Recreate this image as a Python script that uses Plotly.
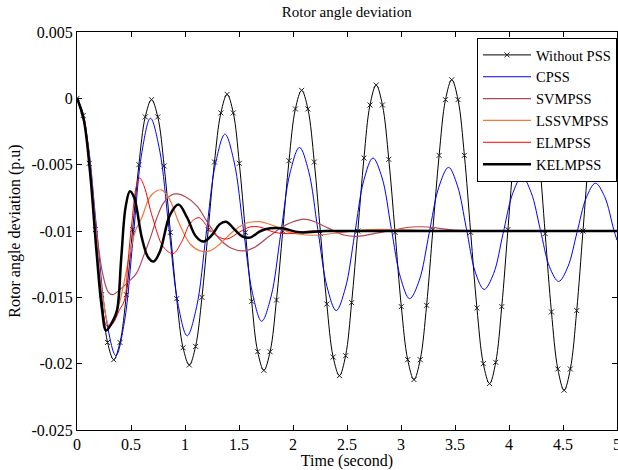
import plotly.graph_objects as go

# Rotor angle deviation (p.u) vs time (s)

t_nopss = [0.0, 0.057, 0.113, 0.17, 0.227, 0.283,
           0.34, 0.398, 0.457, 0.515, 0.573, 0.632,
           0.69, 0.748, 0.807, 0.865, 0.923, 0.982,
           1.04, 1.098, 1.157, 1.215, 1.273, 1.332,
           1.39, 1.447, 1.503, 1.56, 1.617, 1.673,
           1.73, 1.788, 1.847, 1.905, 1.963, 2.022,
           2.08, 2.138, 2.197, 2.255, 2.313, 2.372,
           2.43, 2.487, 2.543, 2.60, 2.657, 2.713,
           2.77, 2.828, 2.887, 2.945, 3.003, 3.062,
           3.12, 3.178, 3.237, 3.295, 3.353, 3.412,
           3.47, 3.528, 3.587, 3.645, 3.703, 3.762,
           3.82, 3.877, 3.933, 3.99, 4.047, 4.103,
           4.16, 4.218, 4.277, 4.335, 4.393, 4.452,
           4.51, 4.568, 4.627, 4.685, 4.743, 4.802,
           4.86, 4.918, 4.976, 5.0]
v_nopss = [0.0, -0.0013, -0.0049, -0.0099, -0.0148, -0.0184,
           -0.0197, -0.0184, -0.0148, -0.0099, -0.0050, -0.0014,
           -0.0001, -0.0014, -0.0051, -0.0101, -0.0151, -0.0188,
           -0.0201, -0.0187, -0.0150, -0.0099, -0.0048, -0.0011,
           0.0003, -0.0011, -0.0049, -0.0101, -0.0153, -0.0191,
           -0.0205, -0.0191, -0.0152, -0.0100, -0.0047, -0.0008,
           0.0006, -0.0008, -0.0048, -0.0102, -0.0155, -0.0195,
           -0.0209, -0.0194, -0.0154, -0.0100, -0.0045, -0.0005,
           0.0010, -0.0005, -0.0046, -0.0101, -0.0157, -0.0197,
           -0.0212, -0.0197, -0.0156, -0.0099, -0.0043, -0.0001,
           0.0014, -0.0001, -0.0043, -0.0101, -0.0158, -0.0200,
           -0.0215, -0.0199, -0.0157, -0.0099, -0.0041, 0.0001,
           0.0017, 0.0001, -0.0042, -0.0102, -0.0161, -0.0204,
           -0.0220, -0.0204, -0.0160, -0.0100, -0.0040, 0.0004,
           0.0020, 0.0004, -0.0040, -0.0058]

t_cpss = [0.0, 0.09, 0.18, 0.27, 0.36, 0.44, 0.52, 0.60, 0.68,
          0.765, 0.85, 0.935, 1.02, 1.108, 1.195, 1.283, 1.37,
          1.455, 1.54, 1.625, 1.71, 1.798, 1.885, 1.973, 2.06,
          2.145, 2.23, 2.315, 2.40, 2.485, 2.57, 2.655, 2.74,
          2.825, 2.91, 2.995, 3.08, 3.17, 3.26, 3.35, 3.44,
          3.523, 3.605, 3.688, 3.77, 3.858, 3.945, 4.033, 4.12,
          4.205, 4.29, 4.375, 4.46, 4.545, 4.63, 4.715, 4.80,
          4.885, 4.97, 5.0]
v_cpss = [0.0, -0.0028, -0.0097, -0.0166, -0.0194, -0.0168, -0.0105, -0.0041, -0.0015,
          -0.0039, -0.0097, -0.0155, -0.0179, -0.0157, -0.0103, -0.0049, -0.0027,
          -0.0048, -0.0098, -0.0147, -0.0168, -0.0149, -0.0103, -0.0056, -0.0037,
          -0.0055, -0.0099, -0.0142, -0.0160, -0.0143, -0.0103, -0.0062, -0.0045,
          -0.0060, -0.0098, -0.0135, -0.0151, -0.0137, -0.0102, -0.0067, -0.0052,
          -0.0066, -0.0098, -0.0131, -0.0144, -0.0132, -0.0102, -0.0072, -0.0059,
          -0.0071, -0.0099, -0.0127, -0.0138, -0.0127, -0.0101, -0.0075, -0.0064,
          -0.0074, -0.0099, -0.0107]

t_svm = [0.0, 0.06, 0.12, 0.18, 0.24, 0.29, 0.33, 0.40, 0.48, 0.55, 0.62, 0.68,
         0.74, 0.80, 0.87, 0.93, 1.00, 1.11, 1.22, 1.32, 1.43, 1.54, 1.65, 1.78,
         1.90, 2.00, 2.10, 2.20, 2.33, 2.47, 2.60, 2.75, 2.95, 3.10, 3.25, 3.45,
         3.7, 4.0, 4.5, 5.0]
v_svm = [0.0, -0.0013, -0.0050, -0.0100, -0.0133, -0.0146, -0.0148, -0.0144, -0.0138, -0.0132, -0.0118, -0.0105,
         -0.0090, -0.0079, -0.0073, -0.0072, -0.0074, -0.0081, -0.0095, -0.0106, -0.0113, -0.0115, -0.0112, -0.0104,
         -0.0097, -0.0093, -0.0091, -0.0093, -0.0098, -0.0103, -0.0104, -0.0102, -0.0099, -0.0097, -0.0097, -0.0099,
         -0.0100, -0.0100, -0.0100, -0.0100]

t_lssvm = [0.0, 0.06, 0.12, 0.18, 0.24, 0.30, 0.34, 0.40, 0.47, 0.54, 0.60, 0.67,
           0.73, 0.78, 0.85, 0.95, 1.05, 1.14, 1.23, 1.32, 1.45, 1.57, 1.69, 1.82,
           1.97, 2.12, 2.25, 2.45, 2.7, 3.0, 3.5, 4.0, 4.5, 5.0]
v_lssvm = [0.0, -0.0013, -0.0050, -0.0105, -0.0150, -0.0172, -0.0168, -0.0152, -0.0125, -0.0100, -0.0090, -0.0075,
           -0.0070, -0.0069, -0.0075, -0.0095, -0.0110, -0.0115, -0.0115, -0.0110, -0.0100, -0.0094, -0.0093, -0.0096,
           -0.0101, -0.0103, -0.0103, -0.0101, -0.0099, -0.0099, -0.0100, -0.0100, -0.0100, -0.0100]

t_elm = [0.0, 0.06, 0.12, 0.18, 0.23, 0.28, 0.33, 0.39, 0.44, 0.47, 0.51, 0.55,
         0.58, 0.62, 0.70, 0.80, 0.89, 0.97, 1.05, 1.13, 1.21, 1.30, 1.39, 1.50,
         1.60, 1.69, 1.83, 1.97, 2.15, 2.5, 3.0, 3.5, 4.0, 4.5, 5.0]
v_elm = [0.0, -0.0013, -0.0052, -0.0110, -0.0155, -0.0172, -0.0170, -0.0160, -0.0152, -0.0125, -0.0092, -0.0066,
         -0.0060, -0.0066, -0.0090, -0.0112, -0.0117, -0.0108, -0.0094, -0.0090, -0.0097, -0.0104, -0.0106, -0.0101,
         -0.0097, -0.0097, -0.0101, -0.0102, -0.0100, -0.0100, -0.0100, -0.0100, -0.0100, -0.0100, -0.0100]

t_kelm = [0.0, 0.06, 0.12, 0.18, 0.23, 0.27, 0.33, 0.37, 0.41, 0.45, 0.49, 0.53,
          0.60, 0.66, 0.71, 0.77, 0.86, 0.94, 1.02, 1.10, 1.17, 1.25, 1.32, 1.38,
          1.46, 1.53, 1.60, 1.70, 1.79, 1.90, 2.06, 2.3, 2.6, 3.0, 3.5, 4.0, 4.5, 5.0]
v_kelm = [0.0, -0.0015, -0.0055, -0.0115, -0.0158, -0.0175, -0.0168, -0.0160, -0.0120, -0.0082, -0.0070, -0.0075,
          -0.0105, -0.0120, -0.0123, -0.0115, -0.0088, -0.0080, -0.0090, -0.0104, -0.0108, -0.0103, -0.0095, -0.0093,
          -0.0099, -0.0104, -0.0105, -0.0100, -0.0098, -0.0098, -0.0101, -0.0100, -0.0100, -0.0100, -0.0100, -0.0100,
          -0.0100, -0.0100]

x_ticks = [0, 0.5, 1, 1.5, 2, 2.5, 3, 3.5, 4, 4.5, 5]
x_labels = ["0", "0.5", "1", "1.5", "2", "2.5", "3", "3.5", "4", "4.5", "5"]
y_ticks = [0.005, 0, -0.005, -0.01, -0.015, -0.02, -0.025]
y_labels = ["0.005", "0", "-0.005", "-0.01", "-0.015", "-0.02", "-0.025"]

FONT = "Liberation Serif"

fig = go.Figure()
fig.add_trace(go.Scatter(x=t_nopss, y=v_nopss, name="Without PSS", mode="lines+markers",
                         line=dict(color="black", width=1, shape="spline"),
                         marker=dict(symbol="x-thin", size=5, line=dict(color="#222222", width=1))))
fig.add_trace(go.Scatter(x=t_cpss, y=v_cpss, name="CPSS", mode="lines",
                         line=dict(color="#0000ff", width=1, shape="spline")))
fig.add_trace(go.Scatter(x=t_svm, y=v_svm, name="SVMPSS", mode="lines",
                         line=dict(color="#b04858", width=1.2, shape="spline")))
fig.add_trace(go.Scatter(x=t_lssvm, y=v_lssvm, name="LSSVMPSS", mode="lines",
                         line=dict(color="#ee7a40", width=1.2, shape="spline")))
fig.add_trace(go.Scatter(x=t_elm, y=v_elm, name="ELMPSS", mode="lines",
                         line=dict(color="#ff0000", width=1, shape="spline")))
fig.add_trace(go.Scatter(x=t_kelm, y=v_kelm, name="KELMPSS", mode="lines",
                         line=dict(color="black", width=2.5, shape="spline")))

axis_common = dict(showline=True, linecolor="black", linewidth=1, mirror="ticks",
                   ticks="inside", ticklen=5, tickcolor="black", showgrid=False,
                   zeroline=False, ticklabeloverflow="allow",
                   tickfont=dict(family=FONT, size=16, color="black"))

fig.update_xaxes(range=[0, 5], tickvals=x_ticks, ticktext=x_labels,
                 title=dict(text="Time (second)", font=dict(family=FONT, size=16, color="black"),
                            standoff=0),
                 **axis_common)
fig.update_yaxes(range=[-0.025, 0.005], tickvals=y_ticks, ticktext=y_labels,
                 title=dict(text="Rotor angle deviation (p.u)",
                            font=dict(family=FONT, size=16, color="black"), standoff=6),
                 **axis_common)

fig.update_layout(
    width=618, height=470,
    margin=dict(l=77, r=1, t=32, b=40, autoexpand=False),
    paper_bgcolor="white", plot_bgcolor="white",
    title=dict(text="Rotor angle deviation", x=0.561, xanchor="center",
               y=0.975, yanchor="middle", yref="container",
               font=dict(family=FONT, size=15, color="black")),
    font=dict(family=FONT, size=16, color="black"),
    legend=dict(x=1, xanchor="right", y=0.985, yanchor="top",
                bgcolor="white", bordercolor="black", borderwidth=1,
                font=dict(family=FONT, size=14.5, color="black"),
                tracegroupgap=0, itemwidth=48),
    showlegend=True,
)

fig.write_html("out.html", config={"displayModeBar": False},
               post_script="document.body.style.margin='0';")
